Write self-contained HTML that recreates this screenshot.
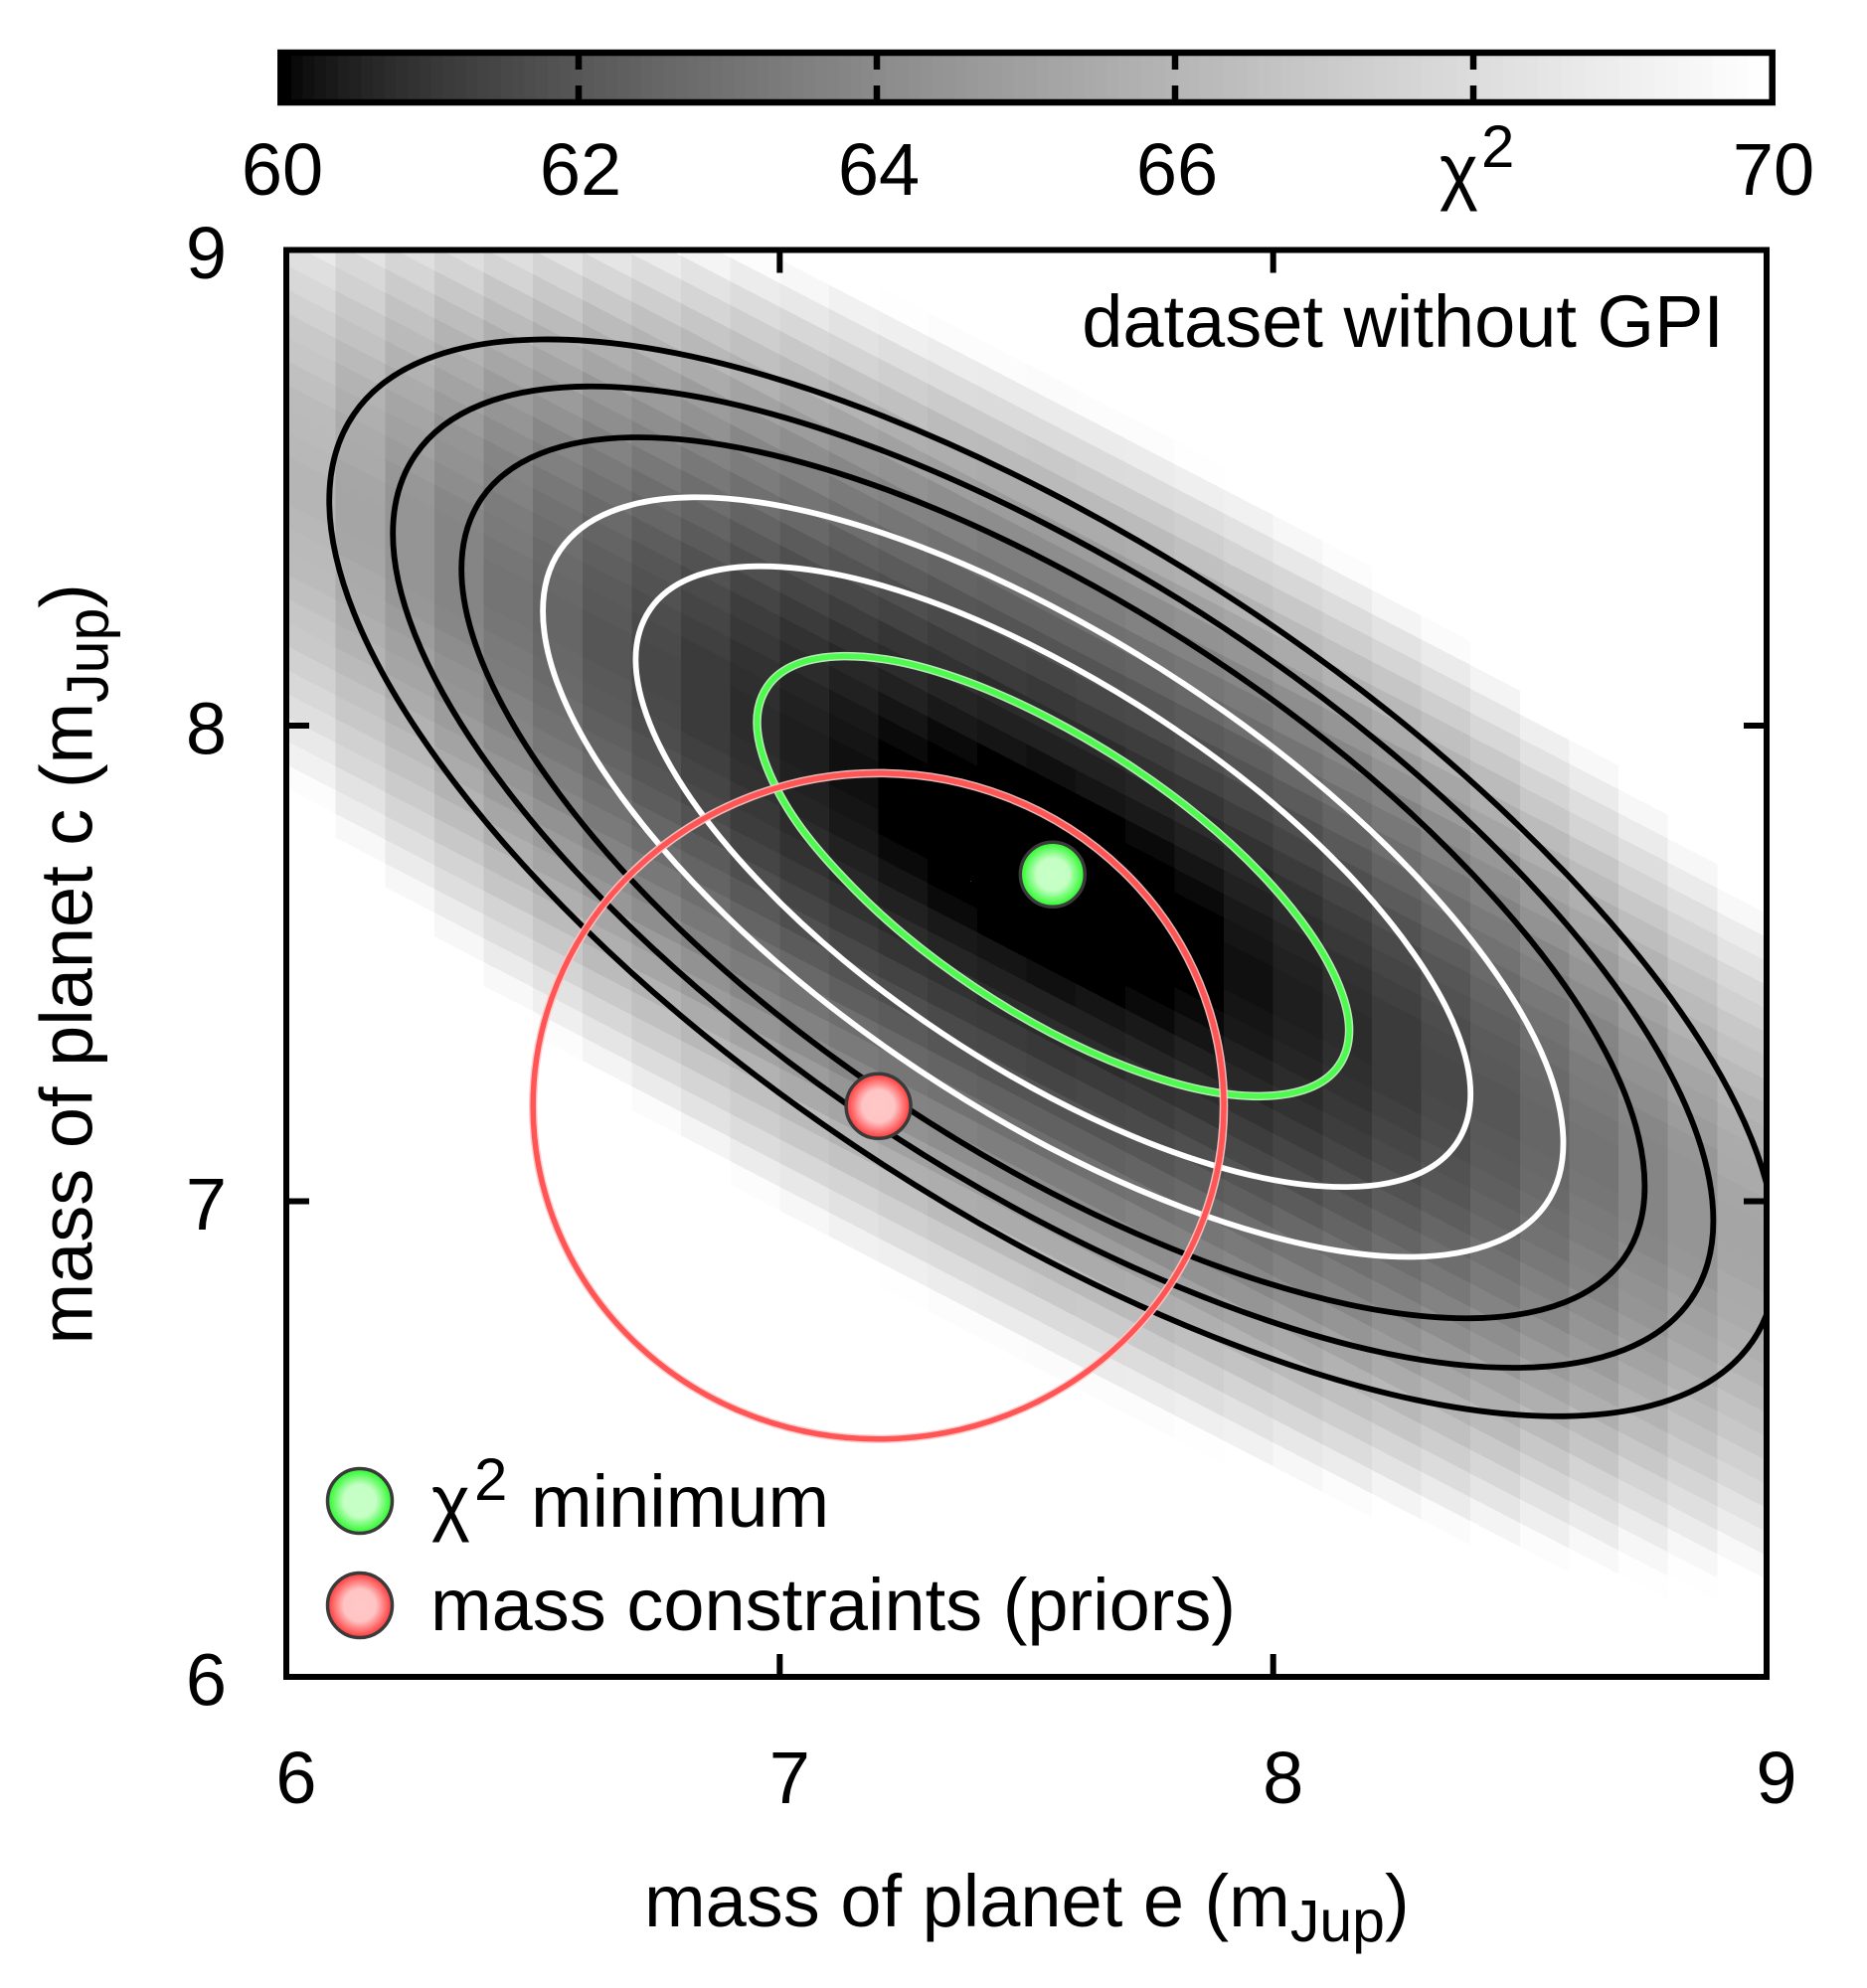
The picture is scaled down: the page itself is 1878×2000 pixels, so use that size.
<!DOCTYPE html>
<html lang="en">
<head>
<meta charset="utf-8">
<title>Chi-square map of planet masses</title>
<style>
html,body{margin:0;padding:0;background:#fff;}
svg{display:block;}
text{font-family:"Liberation Sans",sans-serif;font-size:74px;fill:#000;}
</style>
</head>
<body>
<svg id="chart" xmlns="http://www.w3.org/2000/svg" width="1878" height="2000" viewBox="0 0 1878 2000">
  <defs>
    <clipPath id="plot-clip"><rect x="288" y="251.5" width="1489" height="1435.5"/></clipPath>
    <radialGradient id="green-fill">
      <stop offset="0" stop-color="#c8ffc8"/><stop offset="0.5" stop-color="#c4ffc4"/><stop offset="0.92" stop-color="#40fa40"/><stop offset="1" stop-color="#40fa40"/>
    </radialGradient>
    <radialGradient id="red-fill">
      <stop offset="0" stop-color="#ffc8c8"/><stop offset="0.5" stop-color="#ffc4c4"/><stop offset="0.92" stop-color="#ff4c4c"/><stop offset="1" stop-color="#ff4c4c"/>
    </radialGradient>
  </defs>
  <rect width="1878" height="2000" fill="#fff"/>
  <g id="colorbar-cells"></g>
  <rect x="282.3" y="53" width="1500.4" height="50" fill="none" stroke="#000" stroke-width="6.5"/>
  <g id="colorbar-ticks"></g>
  <g id="colorbar-labels"></g>
  <text x="1448" y="197">χ<tspan style="font-size:60px" x="1490" y="168">2</tspan></text>

  <g clip-path="url(#plot-clip)">
    <g id="heatmap" shape-rendering="crispEdges"></g>
    <g id="contours"></g>
    <g id="prior-ring"></g>
  </g>
  <g id="markers"></g>

  <rect x="288" y="251.5" width="1489" height="1435.5" fill="none" stroke="#000" stroke-width="6"/>
  <g id="axis-ticks"></g>
  <g id="axis-labels"></g>

  <text x="1734" y="349" text-anchor="end">dataset without GPI</text>

  <g>
    <circle cx="362" cy="1510" r="32.5" fill="url(#green-fill)" stroke="#3a3a3a" stroke-width="3.5"/>
    <text x="434" y="1536">χ<tspan style="font-size:60px" x="477" y="1509">2</tspan><tspan x="534" y="1536">minimum</tspan></text>
    <circle cx="362" cy="1615" r="32.5" fill="url(#red-fill)" stroke="#3a3a3a" stroke-width="3.5"/>
    <text x="433" y="1640">mass constraints (priors)</text>
  </g>

  <text x="648" y="1938">mass of planet e (m<tspan style="font-size:59px" dy="15">Jup</tspan><tspan dy="-15">)</tspan></text>
  <text transform="translate(92.5 1352.5) rotate(-90)" x="0" y="0">mass of planet c (m<tspan style="font-size:59px" dy="16">Jup</tspan><tspan dy="-16">)</tspan></text>
</svg>

<script>
// ---- axis configuration values ----
const xTicks = [6, 7, 8, 9];
const yTicks = [6, 7, 8, 9];
const xInnerTicks = [7, 8];
const yInnerTicks = [7, 8];
const colorbarTicks = [62, 64, 66, 68];
const colorbarLabels = [60, 62, 64, 66, 70];
const colorRange = [60, 70];

// ---- points (mass of planet e, mass of planet c) ----
const chi2MinimumPoint = [7.553, 7.687];
const priorPoint = [7.2, 7.2];
const priorRadius = [0.7];

// ---- chi-square map: one list per 0.1-wide mass-e column, top band first ----
const columnStarts = [6.0,6.1,6.2,6.3,6.4,6.5,6.6,6.7,6.8,6.9,7.0,7.1,7.2,7.3,7.4,7.5,7.6,7.7,7.8,7.9,8.0,8.1,8.2,8.3,8.4,8.5,8.6,8.7,8.8,8.9];
const firstBand = [-11,-12,-13,-14,-15,-16,-17,-18,-19,-20,-20,-20,-21,-21,-21,-21,-21,-21,-21,-20,-20,-20,-19,-19,-18,-17,-17,-16,-15,-14];
const chi2Columns = [
[68.7,68.2,67.8,67.4,67.0,66.8,66.5,66.3,66.2,66.1,66.0,66.0,66.1,66.2,66.3,66.5,66.8,67.0,67.4,67.8,68.2,68.7,69.2,69.8],
[68.4,67.8,67.4,66.9,66.6,66.2,65.9,65.7,65.5,65.4,65.3,65.2,65.2,65.3,65.4,65.5,65.7,65.9,66.2,66.6,66.9,67.4,67.8,68.4,68.9,69.6],
[68.2,67.6,67.1,66.6,66.2,65.8,65.5,65.2,65.0,64.8,64.6,64.5,64.5,64.5,64.5,64.6,64.8,65.0,65.2,65.5,65.8,66.2,66.6,67.1,67.6,68.2,68.8,69.5],
[68.1,67.5,66.9,66.4,65.9,65.5,65.1,64.8,64.5,64.3,64.1,63.9,63.8,63.8,63.8,63.8,63.9,64.1,64.3,64.5,64.8,65.1,65.5,65.9,66.4,66.9,67.5,68.1,68.8,69.5],
[68.1,67.5,66.8,66.3,65.7,65.3,64.8,64.5,64.1,63.8,63.6,63.4,63.3,63.2,63.1,63.1,63.2,63.3,63.4,63.6,63.8,64.1,64.5,64.8,65.3,65.7,66.3,66.8,67.5,68.1,68.8,69.6],
[68.3,67.5,66.9,66.3,65.7,65.2,64.7,64.3,63.9,63.55,63.27,63.03,62.84,62.70,62.60,62.56,62.56,62.60,62.70,62.84,63.03,63.27,63.55,63.9,64.3,64.7,65.2,65.7,66.3,66.9,67.5,68.3,69.0,69.8],
[68.5,67.7,67.0,66.3,65.7,65.2,64.6,64.2,63.7,63.3,63.01,62.73,62.49,62.30,62.16,62.06,62.02,62.02,62.06,62.16,62.30,62.49,62.73,63.01,63.3,63.7,64.2,64.6,65.2,65.7,66.3,67.0,67.7,68.5,69.3],
[68.8,68.0,67.2,66.5,65.9,65.3,64.7,64.2,63.7,63.26,62.88,62.54,62.26,62.02,61.83,61.69,61.59,61.55,61.55,61.59,61.69,61.83,62.02,62.26,62.54,62.88,63.26,63.7,64.2,64.7,65.3,65.9,66.5,67.2,68.0,68.8,69.7],
[69.3,68.4,67.6,66.8,66.1,65.5,64.8,64.3,63.7,63.26,62.84,62.46,62.12,61.84,61.60,61.41,61.27,61.17,61.13,61.13,61.17,61.27,61.41,61.60,61.84,62.12,62.46,62.84,63.26,63.7,64.3,64.8,65.5,66.1,66.8,67.6,68.4,69.3],
[69.8,68.9,68.0,67.2,66.5,65.8,65.1,64.5,63.9,63.4,62.90,62.48,62.10,61.76,61.48,61.24,61.05,60.91,60.81,60.77,60.77,60.81,60.91,61.05,61.24,61.48,61.76,62.10,62.48,62.90,63.4,63.9,64.5,65.1,65.8,66.5,67.2,68.0,68.9,69.8],
[69.5,68.6,67.7,66.9,66.2,65.4,64.8,64.2,63.6,63.07,62.59,62.17,61.79,61.45,61.17,60.93,60.74,60.60,60.50,60.46,60.46,60.50,60.60,60.74,60.93,61.17,61.45,61.79,62.17,62.59,63.07,63.6,64.2,64.8,65.4,66.2,66.9,67.7,68.6,69.5],
[69.2,68.3,67.5,66.7,65.9,65.2,64.5,63.9,63.3,62.82,62.34,61.92,61.54,61.20,60.92,60.68,60.49,60.35,60.25,60.21,60.21,60.25,60.35,60.49,60.68,60.92,61.20,61.54,61.92,62.34,62.82,63.3,63.9,64.5,65.2,65.9,66.7,67.5,68.3,69.2],
[69.9,69.0,68.1,67.3,66.5,65.7,65.0,64.3,63.7,63.14,62.62,62.14,61.72,61.34,61.00,60.72,60.48,60.29,60.15,60.05,60.01,60.01,60.05,60.15,60.29,60.48,60.72,61.00,61.34,61.72,62.14,62.62,63.14,63.7,64.3,65.0,65.7,66.5,67.3,68.1,69.0,69.9],
[69.8,68.9,68.0,67.1,66.3,65.6,64.9,64.2,63.6,63.00,62.48,62.00,61.58,61.20,60.86,60.58,60.34,60.15,60.01,59.91,59.87,59.87,59.91,60.01,60.15,60.34,60.58,60.86,61.20,61.58,62.00,62.48,63.00,63.6,64.2,64.9,65.6,66.3,67.1,68.0,68.9,69.8],
[69.8,68.8,67.9,67.1,66.2,65.5,64.8,64.1,63.5,62.92,62.40,61.92,61.50,61.12,60.78,60.50,60.26,60.07,59.93,59.83,59.79,59.79,59.83,59.93,60.07,60.26,60.50,60.78,61.12,61.50,61.92,62.40,62.92,63.5,64.1,64.8,65.5,66.2,67.1,67.9,68.8,69.8],
[69.7,68.8,67.9,67.0,66.2,65.5,64.7,64.1,63.46,62.89,62.37,61.89,61.47,61.09,60.75,60.47,60.23,60.04,59.90,59.80,59.76,59.76,59.80,59.90,60.04,60.23,60.47,60.75,61.09,61.47,61.89,62.37,62.89,63.46,64.1,64.7,65.5,66.2,67.0,67.9,68.8,69.7],
[69.8,68.8,67.9,67.1,66.2,65.5,64.8,64.1,63.5,62.92,62.40,61.92,61.50,61.12,60.78,60.50,60.26,60.07,59.93,59.83,59.79,59.79,59.83,59.93,60.07,60.26,60.50,60.78,61.12,61.50,61.92,62.40,62.92,63.5,64.1,64.8,65.5,66.2,67.1,67.9,68.8,69.8],
[69.8,68.9,68.0,67.1,66.3,65.6,64.9,64.2,63.6,63.00,62.48,62.00,61.58,61.20,60.86,60.58,60.34,60.15,60.01,59.91,59.87,59.87,59.91,60.01,60.15,60.34,60.58,60.86,61.20,61.58,62.00,62.48,63.00,63.6,64.2,64.9,65.6,66.3,67.1,68.0,68.9,69.8],
[69.9,69.0,68.1,67.3,66.5,65.7,65.0,64.3,63.7,63.14,62.62,62.14,61.72,61.34,61.00,60.72,60.48,60.29,60.15,60.05,60.01,60.01,60.05,60.15,60.29,60.48,60.72,61.00,61.34,61.72,62.14,62.62,63.14,63.7,64.3,65.0,65.7,66.5,67.3,68.1,69.0,69.9],
[69.2,68.3,67.5,66.7,65.9,65.2,64.5,63.9,63.3,62.82,62.34,61.92,61.54,61.20,60.92,60.68,60.49,60.35,60.25,60.21,60.21,60.25,60.35,60.49,60.68,60.92,61.20,61.54,61.92,62.34,62.82,63.3,63.9,64.5,65.2,65.9,66.7,67.5,68.3,69.2],
[69.5,68.6,67.7,66.9,66.2,65.4,64.8,64.2,63.6,63.07,62.59,62.17,61.79,61.45,61.17,60.93,60.74,60.60,60.50,60.46,60.46,60.50,60.60,60.74,60.93,61.17,61.45,61.79,62.17,62.59,63.07,63.6,64.2,64.8,65.4,66.2,66.9,67.7,68.6,69.5],
[69.8,68.9,68.0,67.2,66.5,65.8,65.1,64.5,63.9,63.4,62.90,62.48,62.10,61.76,61.48,61.24,61.05,60.91,60.81,60.77,60.77,60.81,60.91,61.05,61.24,61.48,61.76,62.10,62.48,62.90,63.4,63.9,64.5,65.1,65.8,66.5,67.2,68.0,68.9,69.8],
[69.3,68.4,67.6,66.8,66.1,65.5,64.8,64.3,63.7,63.26,62.84,62.46,62.12,61.84,61.60,61.41,61.27,61.17,61.13,61.13,61.17,61.27,61.41,61.60,61.84,62.12,62.46,62.84,63.26,63.7,64.3,64.8,65.5,66.1,66.8,67.6,68.4,69.3],
[69.7,68.8,68.0,67.2,66.5,65.9,65.3,64.7,64.2,63.7,63.26,62.88,62.54,62.26,62.02,61.83,61.69,61.59,61.55,61.55,61.59,61.69,61.83,62.02,62.26,62.54,62.88,63.26,63.7,64.2,64.7,65.3,65.9,66.5,67.2,68.0,68.8,69.7],
[69.3,68.5,67.7,67.0,66.3,65.7,65.2,64.6,64.2,63.7,63.3,63.01,62.73,62.49,62.30,62.16,62.06,62.02,62.02,62.06,62.16,62.30,62.49,62.73,63.01,63.3,63.7,64.2,64.6,65.2,65.7,66.3,67.0,67.7,68.5,69.3],
[69.0,68.3,67.5,66.9,66.3,65.7,65.2,64.7,64.3,63.9,63.55,63.27,63.03,62.84,62.70,62.60,62.56,62.56,62.60,62.70,62.84,63.03,63.27,63.55,63.9,64.3,64.7,65.2,65.7,66.3,66.9,67.5,68.3,69.0,69.8],
[69.6,68.8,68.1,67.5,66.8,66.3,65.7,65.3,64.8,64.5,64.1,63.8,63.6,63.4,63.3,63.2,63.1,63.1,63.2,63.3,63.4,63.6,63.8,64.1,64.5,64.8,65.3,65.7,66.3,66.8,67.5,68.1,68.8,69.6],
[69.5,68.8,68.1,67.5,66.9,66.4,65.9,65.5,65.1,64.8,64.5,64.3,64.1,63.9,63.8,63.8,63.8,63.8,63.9,64.1,64.3,64.5,64.8,65.1,65.5,65.9,66.4,66.9,67.5,68.1,68.8,69.5,69.9],
[69.5,68.8,68.2,67.6,67.1,66.6,66.2,65.8,65.5,65.2,65.0,64.8,64.6,64.5,64.5,64.5,64.5,64.6,64.8,65.0,65.2,65.5,65.8,66.2,66.6,67.1,67.6,68.2,68.8,69.5,69.9],
[69.6,68.9,68.4,67.8,67.4,66.9,66.6,66.2,65.9,65.7,65.5,65.4,65.3,65.2,65.2,65.3,65.4,65.5,65.7,65.9,66.2,66.6,66.9,67.4,67.8,68.4,68.9,69.6]
];

// ---- contours, in data units ----
const contourGreen = [[8.154,7.360],[8.133,7.285],[8.073,7.238],[7.977,7.221],[7.852,7.235],[7.706,7.281],[7.550,7.354],[7.396,7.449],[7.252,7.560],[7.129,7.680],[7.034,7.798],[6.975,7.910],[6.954,8.007],[6.975,8.082],[7.034,8.129],[7.129,8.146],[7.252,8.132],[7.396,8.086],[7.550,8.013],[7.706,7.918],[7.852,7.807],[7.977,7.687],[8.073,7.566],[8.133,7.454]];
const contourWhiteInner = [[8.400,7.226],[8.371,7.121],[8.286,7.054],[8.151,7.030],[7.975,7.050],[7.770,7.114],[7.550,7.217],[7.332,7.351],[7.129,7.507],[6.955,7.676],[6.821,7.845],[6.737,8.003],[6.708,8.139],[6.737,8.244],[6.821,8.311],[6.955,8.335],[7.129,8.315],[7.332,8.251],[7.550,8.148],[7.770,8.014],[7.975,7.858],[8.151,7.689],[8.286,7.519],[8.371,7.361]];
const contourWhiteOuter = [[8.588,7.122],[8.553,6.994],[8.449,6.913],[8.284,6.883],[8.069,6.908],[7.819,6.986],[7.550,7.111],[7.283,7.275],[7.035,7.466],[6.822,7.673],[6.658,7.881],[6.555,8.074],[6.520,8.241],[6.555,8.369],[6.658,8.450],[6.822,8.480],[7.035,8.455],[7.283,8.377],[7.550,8.252],[7.819,8.088],[8.069,7.897],[8.284,7.690],[8.449,7.483],[8.553,7.290]];
const contourBlackInner = [[8.753,7.031],[8.712,6.882],[8.592,6.788],[8.401,6.754],[8.152,6.783],[7.862,6.873],[7.550,7.018],[7.240,7.208],[6.952,7.429],[6.705,7.669],[6.515,7.912],[6.396,8.136],[6.355,8.329],[6.396,8.478],[6.515,8.572],[6.705,8.606],[6.952,8.577],[7.240,8.487],[7.550,8.342],[7.862,8.152],[8.152,7.931],[8.401,7.691],[8.592,7.452],[8.712,7.228]];
const contourBlackMiddle = [[8.892,6.959],[8.846,6.793],[8.712,6.688],[8.499,6.650],[8.221,6.682],[7.898,6.783],[7.550,6.945],[7.204,7.156],[6.883,7.404],[6.607,7.671],[6.395,7.939],[6.262,8.188],[6.216,8.404],[6.262,8.570],[6.395,8.675],[6.607,8.713],[6.883,8.681],[7.204,8.580],[7.550,8.418],[7.898,8.207],[8.221,7.959],[8.499,7.692],[8.712,7.425],[8.846,7.176]];
const contourBlackOuter = [[9.021,6.887],[8.971,6.705],[8.824,6.590],[8.590,6.548],[8.286,6.583],[7.931,6.694],[7.550,6.871],[7.171,7.103],[6.818,7.374],[6.516,7.667],[6.283,7.963],[6.137,8.237],[6.087,8.473],[6.137,8.655],[6.283,8.770],[6.516,8.812],[6.818,8.777],[7.171,8.666],[7.550,8.489],[7.931,8.257],[8.286,7.986],[8.590,7.693],[8.824,7.401],[8.971,7.127]];

// ---- axis functions ----
const SVGNS = 'http://www.w3.org/2000/svg';
const plot = {left: 288, right: 1777, top: 251.5, bottom: 1687};
function X(v) { return plot.left + (v - 6) / 3 * (plot.right - plot.left); }
function Y(v) { return plot.bottom - (v - 6) / 3 * (plot.bottom - plot.top); }
const bar = {left: 281.3, right: 1781.3, top: 56, bottom: 100};
function CB(v) { return 282 + (v - colorRange[0]) / (colorRange[1] - colorRange[0]) * 1500; }

// Palette: 128 gray levels with gamma 1.5.
function grayLevel(index) {
  const g = Math.round(255 * Math.pow(index / 127, 2 / 3));
  return 'rgb(' + g + ',' + g + ',' + g + ')';
}
function colorOf(v) {
  const t = (v - colorRange[0]) / (colorRange[1] - colorRange[0]);
  const index = Math.max(0, Math.min(127, Math.floor(t * 128)));
  return grayLevel(index);
}
function make(tag, attrs, parent) {
  const el = document.createElementNS(SVGNS, tag);
  for (const k in attrs) el.setAttribute(k, attrs[k]);
  parent.appendChild(el);
  return el;
}

// Band lattice: 0.05-tall bands sheared along the map's valley line.
const bandOriginX = 7.55, bandOriginY = 7.6846;
const bandSlope = 0.5378, bandStep = 0.05, columnWidth = 0.1;
function bandY(x, band) { return bandOriginY - bandSlope * (x - bandOriginX) - band * bandStep; }

// colour bar
(function () {
  const g = document.getElementById('colorbar-cells');
  const w = (bar.right - bar.left) / 128;
  for (let i = 0; i < 128; i++) {
    const el = make('rect', {x: bar.left + i * w, y: bar.top, width: w + 0.6, height: bar.bottom - bar.top, fill: grayLevel(i), 'shape-rendering': 'crispEdges'}, g);
    
    
  }
  const t = document.getElementById('colorbar-ticks');
  colorbarTicks.forEach(function (v) {
    const a = make('line', {x1: CB(v), x2: CB(v), y1: 56, y2: 70, stroke: '#000', 'stroke-width': 6.5}, t);
    
    
    const b = make('line', {x1: CB(v), x2: CB(v), y1: 86, y2: 100, stroke: '#000', 'stroke-width': 6.5}, t);
    
    
  });
  const l = document.getElementById('colorbar-labels');
  colorbarLabels.forEach(function (v) {
    const el = make('text', {x: CB(v) + 2, y: 196, 'text-anchor': 'middle'}, l);
    
    
    el.textContent = String(v);
  });
})();

// heatmap
(function () {
  const g = document.getElementById('heatmap');
  chi2Columns.forEach(function (values, k) {
    const x0 = columnStarts[k], x1 = x0 + columnWidth;
    values.forEach(function (v, i) {
      const band = firstBand[k] + i;
      const pts = [
        [X(x0), Y(bandY(x0, band))],
        [X(x1), Y(bandY(x1, band))],
        [X(x1), Y(bandY(x1, band + 1))],
        [X(x0), Y(bandY(x0, band + 1))]
      ].map(function (p) { return p[0].toFixed(1) + ',' + p[1].toFixed(1); }).join(' ');
      const el = make('polygon', {points: pts, fill: colorOf(v)}, g);
      
      
    });
  });
})();

// smooth closed path through points given in data units
function closedPath(points) {
  const p = points.map(function (d) { return [X(d[0]), Y(d[1])]; });
  const n = p.length;
  let s = 'M' + p[0][0].toFixed(1) + ' ' + p[0][1].toFixed(1);
  for (let i = 0; i < n; i++) {
    const a = p[(i - 1 + n) % n], b = p[i], c = p[(i + 1) % n], d = p[(i + 2) % n];
    const c1x = b[0] + (c[0] - a[0]) / 6, c1y = b[1] + (c[1] - a[1]) / 6;
    const c2x = c[0] - (d[0] - b[0]) / 6, c2y = c[1] - (d[1] - b[1]) / 6;
    s += 'C' + c1x.toFixed(1) + ' ' + c1y.toFixed(1) + ' ' + c2x.toFixed(1) + ' ' + c2y.toFixed(1) + ' ' + c[0].toFixed(1) + ' ' + c[1].toFixed(1);
  }
  return s + 'Z';
}

// contours
(function () {
  const g = document.getElementById('contours');
  const black = [contourBlackOuter, contourBlackMiddle, contourBlackInner];
  black.forEach(function (pts) {
    const el = make('path', {d: closedPath(pts), fill: 'none', stroke: '#000', 'stroke-width': 5.8}, g);
    
    
  });
  const white = [contourWhiteOuter, contourWhiteInner];
  white.forEach(function (pts) {
    const el = make('path', {d: closedPath(pts), fill: 'none', stroke: '#fff', 'stroke-width': 5.8}, g);
    
    
  });
  const halo = make('path', {d: closedPath(contourGreen), fill: 'none', stroke: '#c8ffc8', 'stroke-opacity': 0.9, 'stroke-width': 8.5}, g);
  
  
  const core = make('path', {d: closedPath(contourGreen), fill: 'none', stroke: '#4dfa4d', 'stroke-width': 5.5}, g);
  
  
})();

// prior circle
(function () {
  const g = document.getElementById('prior-ring');
  const cx = X(priorPoint[0]), cy = Y(priorPoint[1]);
  const rx = X(priorPoint[0] + priorRadius[0]) - cx, ry = cy - Y(priorPoint[1] + priorRadius[0]);
  const halo = make('ellipse', {cx: cx, cy: cy, rx: rx, ry: ry, fill: 'none', stroke: '#ffc8c8', 'stroke-opacity': 0.9, 'stroke-width': 8.5}, g);
  
  
  const core = make('ellipse', {cx: cx, cy: cy, rx: rx, ry: ry, fill: 'none', stroke: '#ff5555', 'stroke-width': 5.5}, g);
  
  
})();

// markers
(function () {
  const g = document.getElementById('markers');
  const red = make('circle', {cx: X(priorPoint[0]), cy: Y(priorPoint[1]), r: 32.5, fill: 'url(#red-fill)', stroke: '#3a3a3a', 'stroke-width': 3.5}, g);
  
  
  const green = make('circle', {cx: X(chi2MinimumPoint[0]), cy: Y(chi2MinimumPoint[1]), r: 32.5, fill: 'url(#green-fill)', stroke: '#3a3a3a', 'stroke-width': 3.5}, g);
  
  
})();

// axis ticks and labels
(function () {
  const t = document.getElementById('axis-ticks');
  const tickLen = 23;
  xInnerTicks.forEach(function (v) {
    const a = make('line', {x1: X(v), x2: X(v), y1: plot.bottom, y2: plot.bottom - tickLen, stroke: '#000', 'stroke-width': 6}, t);
    
    
    const b = make('line', {x1: X(v), x2: X(v), y1: plot.top, y2: plot.top + tickLen, stroke: '#000', 'stroke-width': 6}, t);
    
    
  });
  yInnerTicks.forEach(function (v) {
    const a = make('line', {x1: plot.left, x2: plot.left + tickLen, y1: Y(v), y2: Y(v), stroke: '#000', 'stroke-width': 6}, t);
    
    
    const b = make('line', {x1: plot.right, x2: plot.right - tickLen, y1: Y(v), y2: Y(v), stroke: '#000', 'stroke-width': 6}, t);
    
    
  });
  const l = document.getElementById('axis-labels');
  xTicks.forEach(function (v) {
    const el = make('text', {x: X(v) + 10, y: 1814, 'text-anchor': 'middle'}, l);
    
    
    el.textContent = String(v);
  });
  yTicks.forEach(function (v) {
    const el = make('text', {x: 228, y: Y(v) + 28.5, 'text-anchor': 'end'}, l);
    
    
    el.textContent = String(v);
  });
})();
</script>
</body>
</html>
